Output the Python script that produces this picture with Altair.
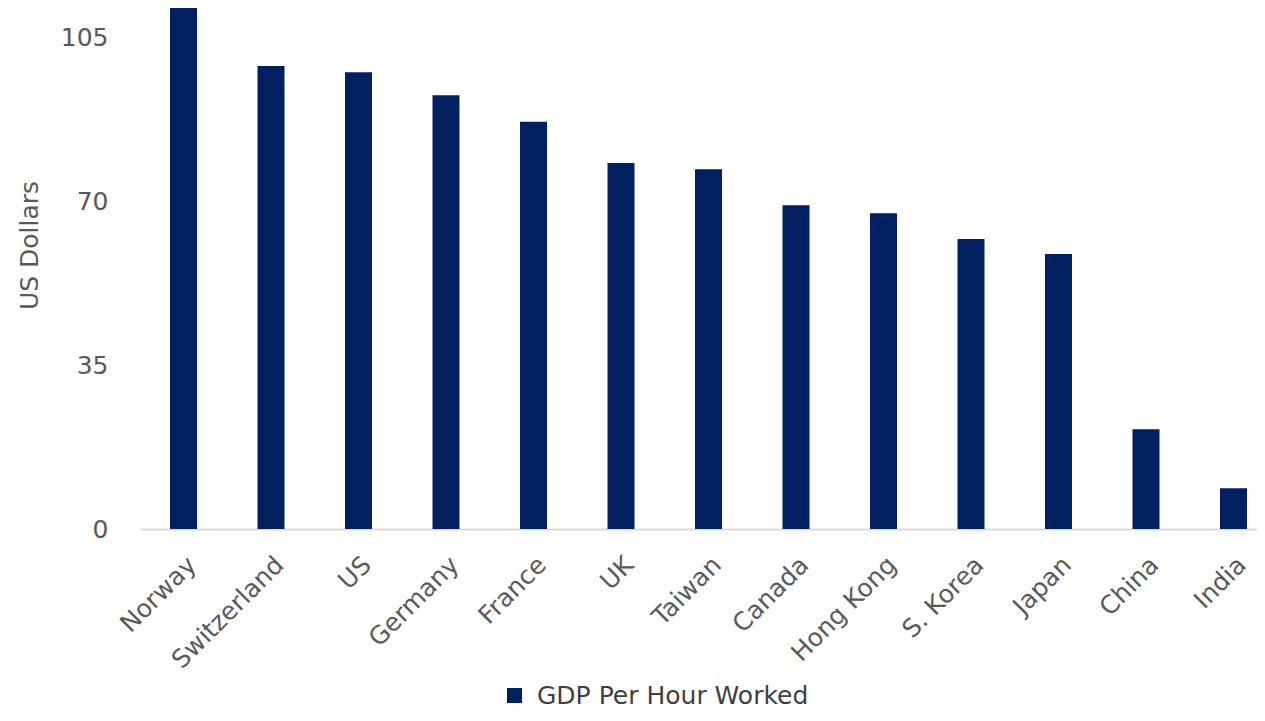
import altair as alt
import pandas as pd

countries = ["Norway", "Switzerland", "US", "Germany", "France", "UK", "Taiwan",
             "Canada", "Hong Kong", "S. Korea", "Japan", "China", "India"]
values = [111.2, 98.8, 97.5, 92.6, 86.9, 78.1, 76.8, 69.1, 67.4, 61.9, 58.7, 21.3, 8.7]
series = ["GDP Per Hour Worked"] * len(countries)
y_ticks = [0, 35, 70, 105]

df = pd.DataFrame({"country": countries, "value": values, "series": series})

FONT = "DejaVu Sans"
GRAY = "#595959"

chart = alt.Chart(df).mark_bar(color="#002060").encode(
    x=alt.X("country:N", sort=countries,
            scale=alt.Scale(paddingInner=0.6914, paddingOuter=0.2286, align=0.75),
            axis=alt.Axis(title=None, labelAngle=-45, labelFontSize=25, labelFont=FONT,
                          labelColor=GRAY, ticks=False, domainColor="#D9D9D9",
                          domainWidth=2, labelPadding=23, grid=False, labelLimit=400)),
    y=alt.Y("value:Q", scale=alt.Scale(domain=[0, 111.2], nice=False, zero=True),
            axis=alt.Axis(title="US Dollars", values=y_ticks, labelFontSize=25,
                          labelFont=FONT, labelColor=GRAY, ticks=False, domain=False,
                          grid=False, labelPadding=32, titleFontSize=25, titleFont=FONT,
                          titleColor=GRAY, titleFontWeight="normal", titleX=-111,
                          titleY=237, titleBaseline="middle")),
    color=alt.Color("series:N", scale=alt.Scale(range=["#002060"]),
                    legend=alt.Legend(title=None, orient="none", legendX=362, legendY=675,
                                      symbolType="square", symbolSize=225,
                                      labelFontSize=25, labelFont=FONT, labelLimit=500,
                                      labelOffset=10,
                                      labelColor="#404040", symbolStrokeWidth=0)),
).properties(
    width=1117, height=521,
    background="white",
    autosize=alt.AutoSizeParams(type="none"),
    padding={"left": 132, "top": 0, "right": 0, "bottom": 179},
).configure_view(strokeWidth=0, stroke="transparent")

chart.save("out.html", embed_options={"renderer": "svg", "actions": False})
